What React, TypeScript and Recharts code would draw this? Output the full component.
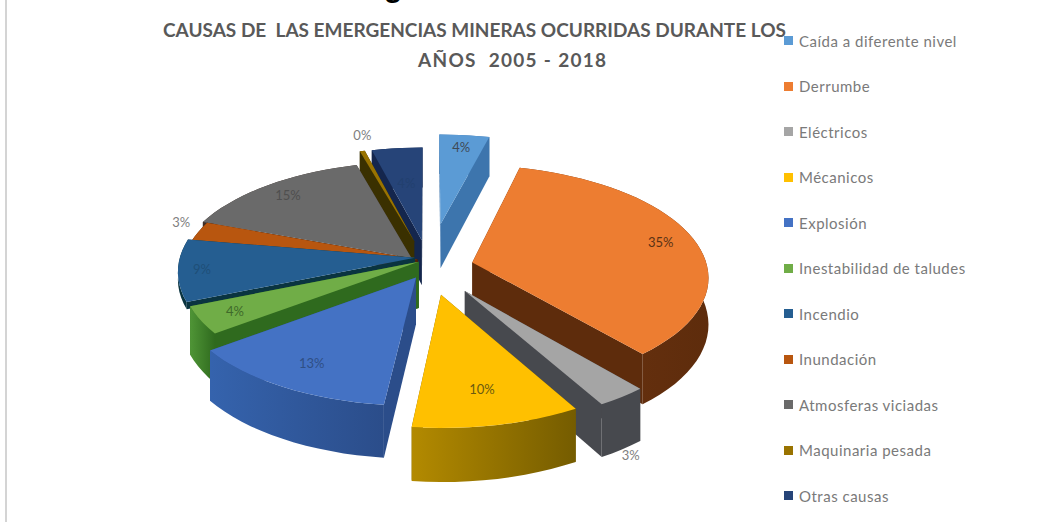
import { PieChart, Pie, Legend } from "recharts";

const categories = [
  "Caída a diferente nivel",
  "Derrumbe",
  "Eléctricos",
  "Mécanicos",
  "Explosión",
  "Inestabilidad de taludes",
  "Incendio",
  "Inundación",
  "Atmosferas viciadas",
  "Maquinaria pesada",
  "Otras causas",
];
const values = [4, 35, 3, 10, 13, 4, 9, 3, 15, 0.4, 4];

const topColors = ["#5b9bd5", "#ed7d31", "#a5a5a5", "#ffc000", "#4472c4", "#70ad47", "#255e91", "#b8560f", "#6a6a6a", "#997300", "#264478"];
const wallColors = ["#3d75ad", "#6d3410", "#47494e", "#b38a00", "#3563ad", "#4f9536", "#0a3440", "#4d2208", "#3f2f28", "#3a3000", "#14264d"];
const wallColorsEnd = ["#3d75ad", "#5e2c0c", "#47494e", "#755c00", "#2b4d8a", "#2f6a1e", "#0a3440", "#4d2208", "#3f2f28", "#3a3000", "#14264d"];
const labelColors = ["#3f4a55", "#5a3215", "#7f7f7f", "#6b5a10", "#2f4f85", "#3f6a2a", "#1f4f78", "#7f7f7f", "#4f4f4f", "#7f7f7f", "#22406f"];

// how far each slice is pulled out, its wall height, and where its percent label sits
const explode = [0.41, 0.19, 0.26, 0.25, 0.11, 0.05, 0.06, 0.05, 0.11, 0.25, 0.25];
const wallDepth = [1, 1, 1, 1, 1, 1, 0.15, 0.2, 0.3, 1, 1];
const sliceLift = [0, 0, 0, 0, 0, -8, -10, -6, 0, 0, 0];
const labelRadius = [0.85, 0.85, 1.05, 0.75, 0.8, 0.85, 0.9, 1.08, 0.85, 1.0, 0.6];
const labelDrop = [0, 0, 52, 0, 0, 0, 0, -8, 0, -16, 0];

const table = categories.map((name, idx) => ({ name, value: values[idx], idx, fill: topColors[idx] }));
const reversedTable = [...table].reverse();

const WIDTH = 1054;
const HEIGHT = 523;
const SQUASH = 0.468;
const PERSPECTIVE = 0.12;
const DEPTH = 46;
const FONT = "Lato, sans-serif";

const rad = (deg: number) => (deg * Math.PI) / 180;

function project(cx: number, cy: number, r: number, u: number, v: number, z = 0) {
  const w = 1 + PERSPECTIVE * v;
  return [cx + (r * u) / w, cy - (r * SQUASH * v) / w + (DEPTH * z) / w];
}

const toPath = (pts: number[][]) =>
  "M" + pts.map((p) => `${p[0].toFixed(1)},${p[1].toFixed(1)}`).join("L") + "Z";

// front = right hand slices, back = the rest, they are drawn by different pies so the layers stack right
const isFront = (idx: number) => idx <= 3;

function sliceShape(layerFront: boolean) {
  return (props: any) => {
    const idx = props.payload?.idx ?? props.idx;
    if (isFront(idx) !== layerFront) return <g />;
    const { cx, outerRadius: r } = props;
    const cy = props.cy + sliceLift[idx];
    // recharts angles: 0 = 3 o'clock, counter clockwise. Here: clockwise from the top
    const a1 = Math.min(90 - props.startAngle, 90 - props.endAngle);
    const a2 = Math.max(90 - props.startAngle, 90 - props.endAngle);
    const mid = (a1 + a2) / 2;
    const u0 = explode[idx] * Math.sin(rad(mid));
    const v0 = explode[idx] * Math.cos(rad(mid));
    const z = wallDepth[idx];
    const top: number[][] = [];
    const bottom: number[][] = [];
    const steps = Math.max(1, Math.ceil((a2 - a1) / 3));
    for (let i = 0; i <= steps; i++) {
      const a = rad(a1 + ((a2 - a1) * i) / steps);
      top.push(project(cx, cy, r, u0 + Math.sin(a), v0 + Math.cos(a)));
      bottom.push(project(cx, cy, r, u0 + Math.sin(a), v0 + Math.cos(a), z));
    }
    const tipTop = project(cx, cy, r, u0, v0);
    const tipBottom = project(cx, cy, r, u0, v0, z);
    const band = [...top, ...[...bottom].reverse()];
    const gradId = `wall-${idx}`;
    return (
      <g>
        <defs>
          <linearGradient id={gradId} x1="0" y1="0" x2="1" y2="0">
            <stop offset="0%" stopColor={wallColors[idx]} />
            <stop offset="100%" stopColor={wallColorsEnd[idx]} />
          </linearGradient>
        </defs>
        <path d={toPath([tipTop, top[0], bottom[0], tipBottom])} fill={wallColorsEnd[idx]} />
        <path d={toPath([tipTop, top[steps], bottom[steps], tipBottom])} fill={wallColorsEnd[idx]} />
        <path d={toPath(band)} fill={`url(#${gradId})`} />
        <path d={toPath([tipTop, ...top])} fill={topColors[idx]} />
      </g>
    );
  };
}

function sliceLabel(layerFront: boolean) {
  return (props: any) => {
    const idx = props.payload?.idx ?? props.idx;
    if (isFront(idx) !== layerFront) return <g />;
    const mid = rad(90 - props.midAngle);
    const f = explode[idx] + labelRadius[idx];
    const [x, y] = project(props.cx, props.cy + sliceLift[idx], props.outerRadius, f * Math.sin(mid), f * Math.cos(mid));
    return (
      <text x={x} y={y + labelDrop[idx]} textAnchor="middle" dominantBaseline="central" fontFamily={FONT} fontSize={13} fill={labelColors[idx]}>
        {`${Math.round(props.percent * 100)}%`}
      </text>
    );
  };
}

function LegendList() {
  return (
    <div style={{ fontFamily: FONT, fontSize: 15, color: "#7a7a7a" }}>
      {categories.map((name, idx) => (
        <div key={name} style={{ height: 45.5, display: "flex", alignItems: "center" }}>
          <span style={{ width: 9, height: 9, background: topColors[idx], marginRight: 6, flex: "none" }} />
          <span style={{ whiteSpace: "nowrap", letterSpacing: 0.5 }}>{name}</span>
        </div>
      ))}
    </div>
  );
}

const titleStyle = {
  position: "absolute" as const,
  fontFamily: FONT,
  fontWeight: 700,
  fontSize: 19,
  color: "#595959",
  whiteSpace: "pre" as const,
  lineHeight: "30px",
};

export default function App() {
  return (
    <div style={{ position: "absolute", left: 0, top: 0, width: WIDTH, height: HEIGHT, background: "#fff", overflow: "hidden" }}>
      <div style={{ position: "absolute", left: 5, top: 0, width: 2, height: 522, background: "#d4d4d4" }} />
      <div style={{ position: "absolute", left: 384, top: -28, lineHeight: "30px", fontFamily: "Liberation Sans", fontWeight: 700, fontSize: 30, color: "#000" }}>g</div>
      <PieChart width={WIDTH} height={HEIGHT}>
        <Pie
          data={reversedTable}
          dataKey="value"
          nameKey="name"
          cx={424}
          cy={262}
          outerRadius={235}
          startAngle={90}
          endAngle={450}
          stroke="none"
          legendType="none"
          labelLine={false}
          label={sliceLabel(false)}
          shape={sliceShape(false)}
          isAnimationActive={false}
        />
        <Pie
          data={table}
          dataKey="value"
          nameKey="name"
          cx={424}
          cy={262}
          outerRadius={235}
          startAngle={90}
          endAngle={-270}
          stroke="none"
          legendType="none"
          labelLine={false}
          label={sliceLabel(true)}
          shape={sliceShape(true)}
          isAnimationActive={false}
        />
        <Legend
          layout="vertical"
          align="right"
          verticalAlign="top"
          content={() => <LegendList />}
          wrapperStyle={{ position: "absolute", left: 784, top: 18, right: "auto", width: 240 }}
        />
      </PieChart>
      <div style={{ ...titleStyle, left: 163, top: 15 }}>CAUSAS DE  LAS EMERGENCIAS MINERAS OCURRIDAS DURANTE LOS</div>
      <div style={{ ...titleStyle, left: 418, top: 45, letterSpacing: 1.3 }}>AÑOS  2005 - 2018</div>
    </div>
  );
}
